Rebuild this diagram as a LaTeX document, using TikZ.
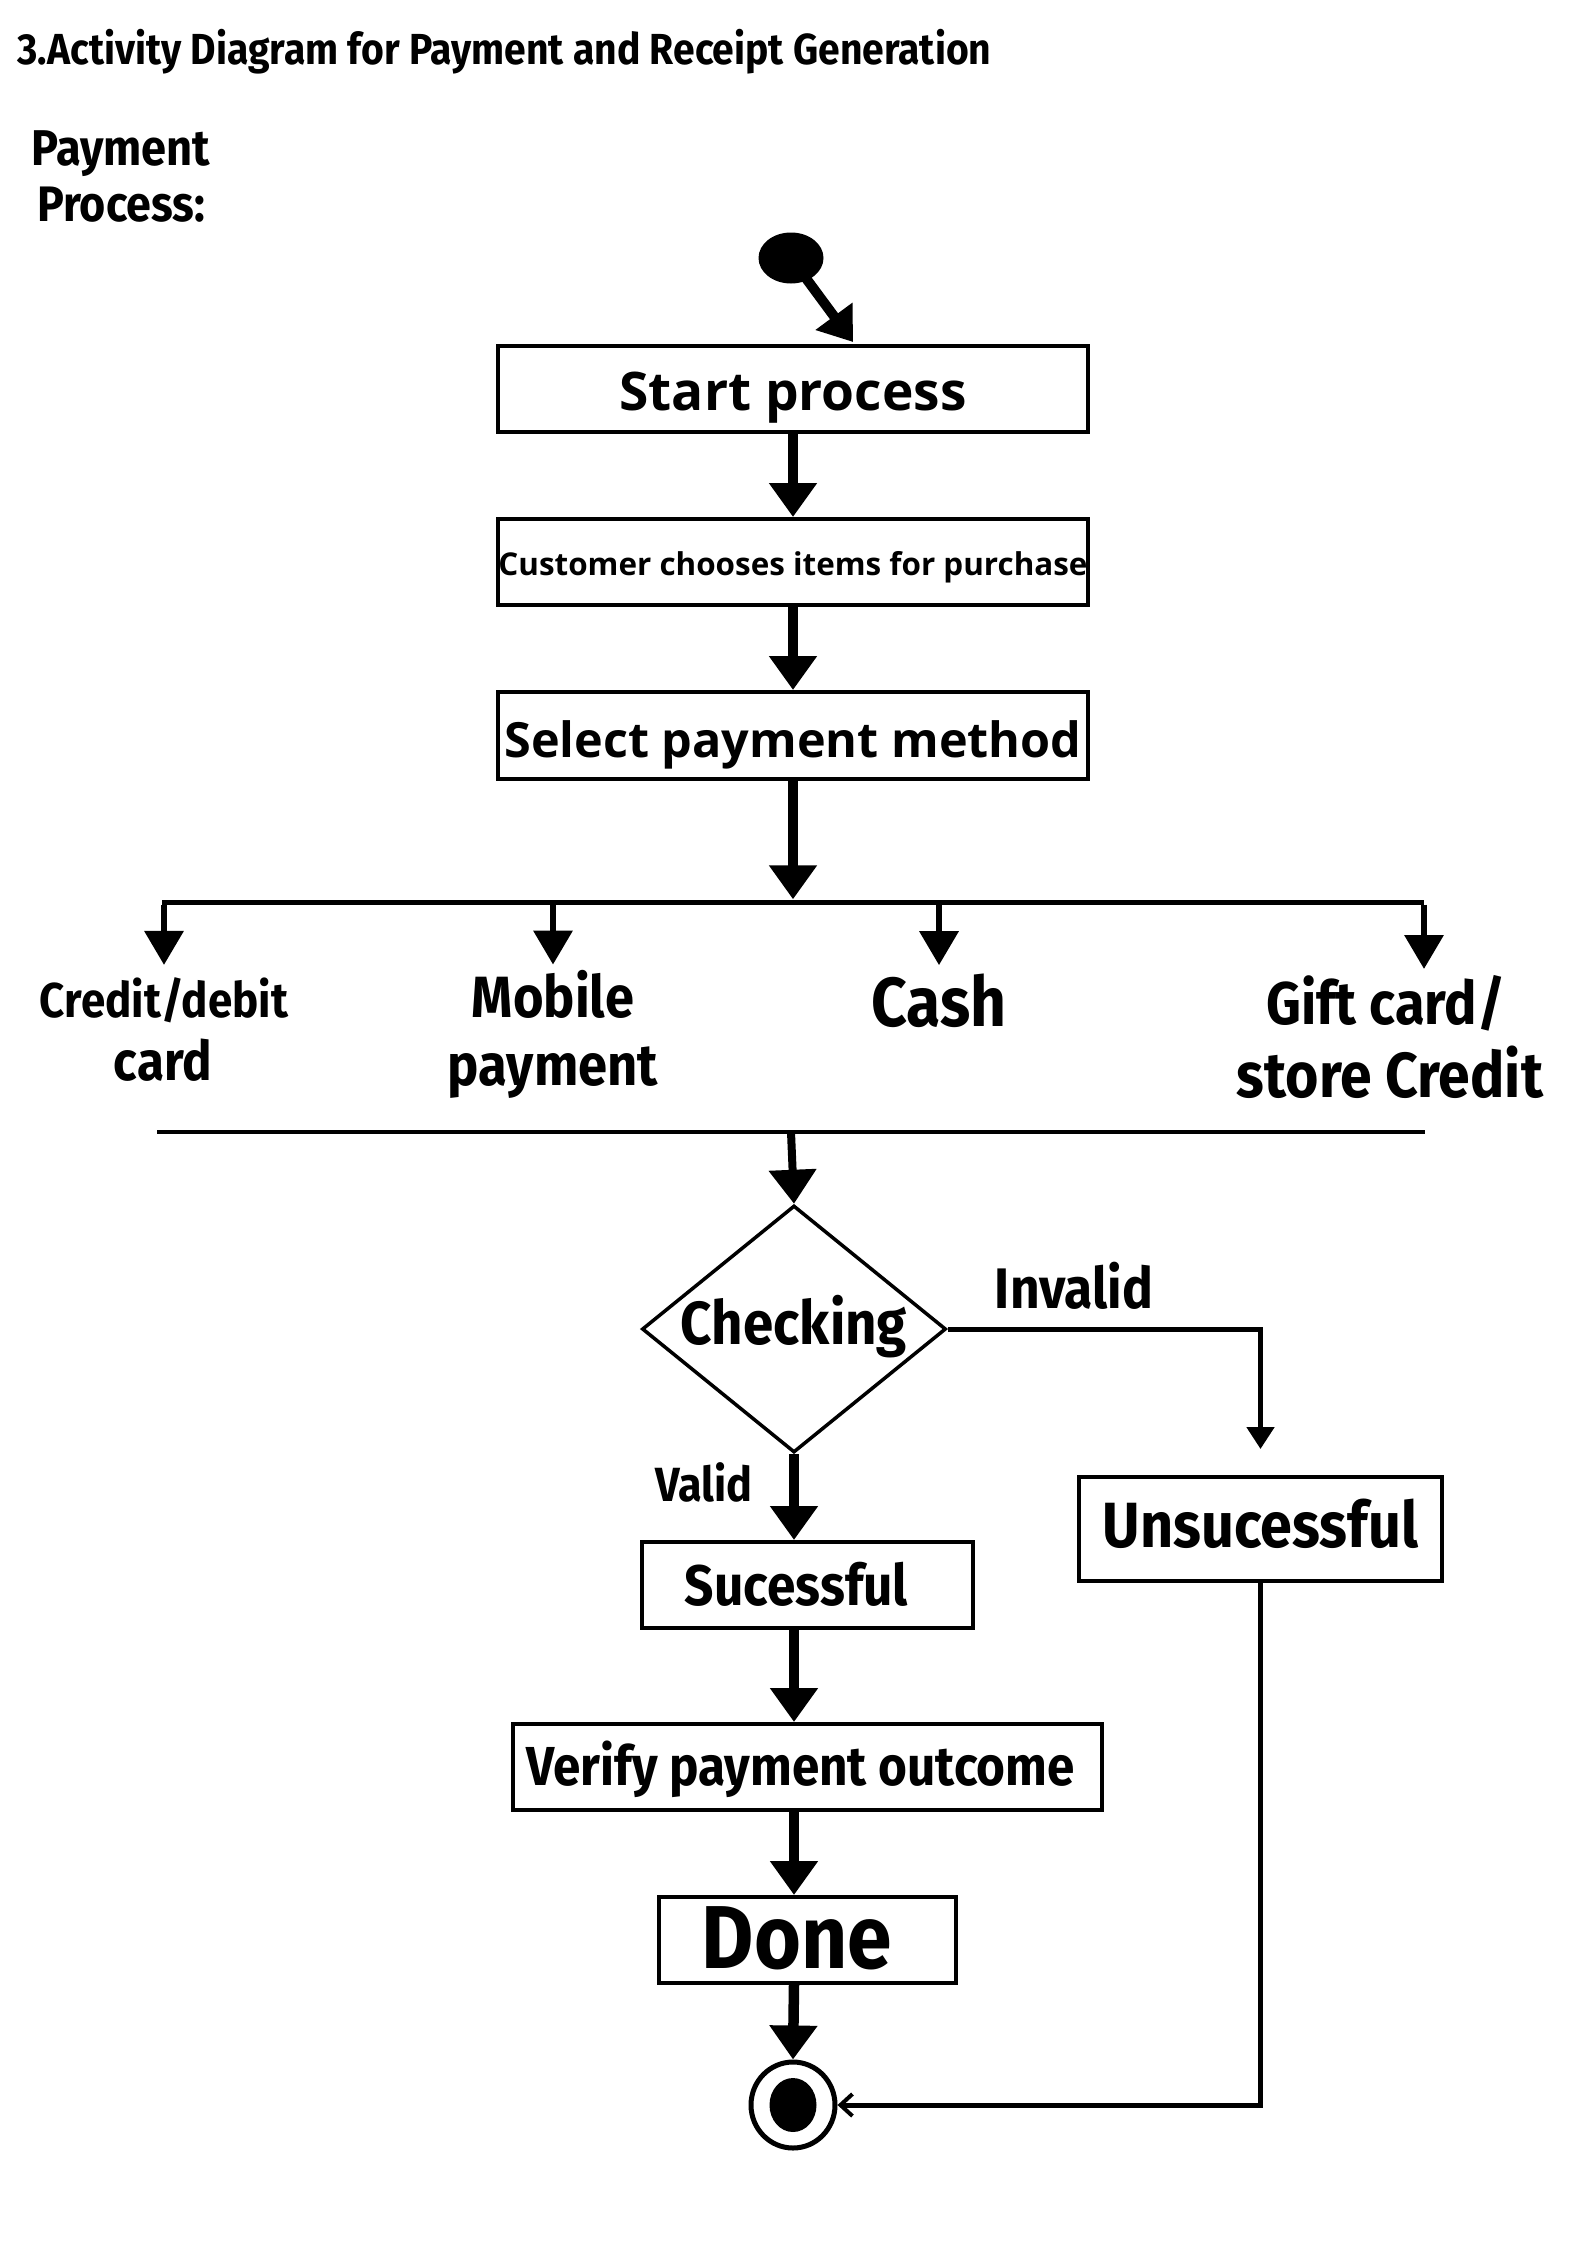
\documentclass[tikz,border=0pt]{standalone}
\usepackage{fontspec}
\usepackage{graphicx}
\setmainfont{Fira Sans}
\newfontfamily\condf[FakeStretch=0.9]{Fira Sans}
\newfontfamily\widef{Open Sans}
\usetikzlibrary{arrows.meta,shapes.geometric}
\newcommand\fitw[2]{\resizebox{#1pt}{!}{#2}}
\begin{document}
\begin{tikzpicture}[x=1pt,y=-1pt,
  txt/.style={inner sep=0pt, anchor=base},
  box/.style={draw, line width=4pt, inner sep=0pt, text depth=0pt},
  bar/.style={fill=black, inner sep=0pt, minimum height=5pt},
  flow/.style={line width=10.5pt, -{Triangle[width=46pt,length=34pt]}},
  farrow/.style={line width=6.5pt, -{Triangle[width=38pt,length=34pt]}},
  tarrow/.style={line width=5pt, -{Triangle[width=27pt,length=22pt]}},
  barb/.style={line width=5pt, -{Straight Barb[width=22pt,length=12pt,line width=4pt]}},
]
\useasboundingbox[fill=white] (0,0) rectangle (1587,2245);

% headings
\node[txt, anchor=base west] (title) at (17,65)
  {\fitw{974}{\condf\bfseries 3.Activity Diagram for Payment and Receipt Generation}};
\node[txt, anchor=base west] (pp1) at (31,165) {\fitw{179}{\condf\bfseries Payment}};
\node[txt, anchor=base west] (pp2) at (37,222) {\fitw{168}{\condf\bfseries Process:}};

% start
\node[ellipse, fill=black, minimum width=65pt, minimum height=51pt, inner sep=0pt] (startn) at (791,258) {};
\coordinate (sp) at (853,342);

% boxes
\node[box, minimum width=590pt, minimum height=86pt, text height=43pt] (start) at (793,389)
  {\fitw{347}{\widef\bfseries Start process}};
\node[box, minimum width=590pt, minimum height=86pt, text height=26pt] (cust) at (793,562)
  {\fitw{589}{\widef\bfseries Customer chooses items for purchase}};
\node[box, minimum width=590pt, minimum height=87pt, text height=43pt] (sel) at (793,735.5)
  {\fitw{577}{\widef\bfseries Select payment method}};

% fork bar
\node[bar, minimum width=1262pt] (fork) at (793,902) {};

% payment options
\node[txt] (credit1) at (164,1017) {\fitw{248}{\condf\bfseries Credit/debit}};
\node[txt] (credit2) at (163,1080) {\fitw{98}{\condf\bfseries card}};
\node[txt] (mob1) at (553,1017) {\fitw{162}{\condf\bfseries Mobile}};
\node[txt] (mob2) at (553,1085) {\fitw{210}{\condf\bfseries payment}};
\node[txt] (cash) at (939,1026) {\fitw{135}{\condf\bfseries Cash}};
\node[txt] (gift1) at (1386,1024) {\fitw{239}{\condf\bfseries Gift card/}};
\node[txt] (gift2) at (1390,1097) {\fitw{306}{\condf\bfseries store Credit}};

% join bar
\node[bar, minimum width=1268pt, minimum height=4pt] (join) at (790.5,1132) {};

% decision
\node[diamond, draw, line width=3.5pt, aspect=1.23, inner sep=0pt, minimum width=304pt,
  minimum height=247pt, text height=30pt, text depth=0pt] (chk) at (794,1329)
  {\fitw{226}{\condf\bfseries Checking}};
\node[txt] (inv) at (1074,1308) {\fitw{158}{\condf\bfseries Invalid}};
\node[txt] (val) at (704,1501) {\fitw{97}{\condf\bfseries Valid}};

% outcomes
\node[box, minimum width=331pt, minimum height=86pt, text height=40pt] (succ) at (807.5,1585)
  {\fitw{223}{\condf\bfseries Sucessful}\hspace*{22pt}};
\node[box, minimum width=363pt, minimum height=104pt, text height=36pt] (unsuc) at (1260.5,1529)
  {\fitw{315}{\condf\bfseries Unsucessful}};
\node[box, minimum width=589pt, minimum height=86pt, text height=36pt] (verify) at (807.5,1767)
  {\fitw{548}{\condf\bfseries Verify payment outcome}\hspace*{14pt}};
\node[box, minimum width=297pt, minimum height=86pt, text height=56pt] (done) at (807.5,1940)
  {\fitw{190}{\condf\bfseries Done}\hspace*{21pt}};

% end
\node[ellipse, draw, line width=5pt, minimum width=84pt, minimum height=86pt, inner sep=0pt,
  path picture={\fill (path picture bounding box.center) ellipse (23.5pt and 27pt);}] (endn) at (793,2105) {};

% connectors
\draw[line width=10pt, -{Triangle[width=44pt,length=32pt]}, shorten <=-2pt] (startn) -- (sp);
\draw[flow] (start.south) -- (cust.north);
\draw[flow] (cust.south) -- (sel.north);
\draw[flow] (sel.south) -- (fork.north);
\draw[farrow, shorten >=12pt] (fork.south -| credit1) -- (credit1.north);
\draw[farrow, shorten >=5pt] (fork.south -| mob1) -- (mob1.north);
\draw[farrow, shorten >=8pt] (fork.south -| cash) -- (cash.north);
\draw[farrow, shorten >=9pt] (fork.south -| 1424,0) -- (1424,978);
\draw[flow, line width=8pt] (join.center -| 791,0) -- (chk.north);
\draw[tarrow, shorten >=26pt] (chk.east) -| (unsuc.north);
\draw[flow] (chk.south) -- (succ.north -| chk.south);
\draw[flow] (succ.south -| chk.south) -- (verify.north -| chk.south);
\draw[flow] (verify.south -| chk.south) -- (done.north -| chk.south);
\draw[flow] (done.south -| chk.south) -- (endn.north);
\draw[barb] (unsuc.south) |- (endn.east);
\end{tikzpicture}
\end{document}
